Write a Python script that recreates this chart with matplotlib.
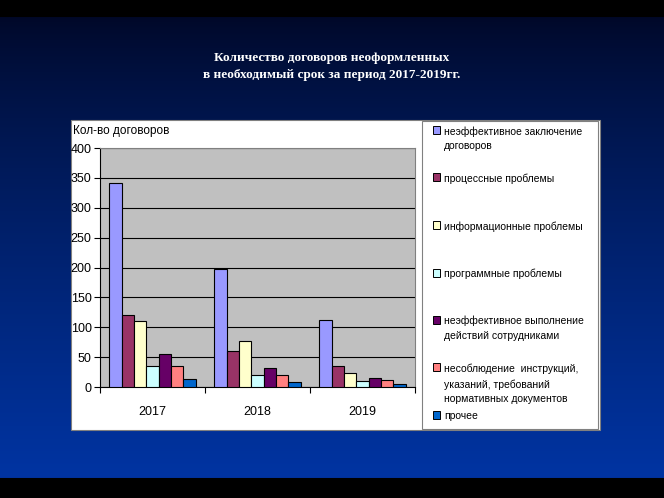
import numpy as np
import matplotlib
matplotlib.use('Agg')
import matplotlib.pyplot as plt
from matplotlib.patches import Rectangle

# data
years = ['2017', '2018', '2019']
series_names = [
    'неэффективное заключение\nдоговоров',
    'процессные проблемы',
    'информационные проблемы',
    'программные проблемы',
    'неэффективное выполнение\nдействий сотрудниками',
    'несоблюдение  инструкций,\nуказаний, требований\nнормативных документов',
    'прочее',
]
values = [
    [342, 198, 112],
    [120, 60, 35],
    [111, 77, 24],
    [35, 20, 10],
    [55, 32, 15],
    [35, 20, 11],
    [14, 8, 5],
]
colors = ['#9999FF', '#993366', '#FFFFCC', '#CCFFFF', '#660066', '#FF8080', '#0066CC']
y_ticks = [0, 50, 100, 150, 200, 250, 300, 350, 400]

W, H = 664, 498
fig = plt.figure(figsize=(W / 100, H / 100), dpi=100)

def px(x, y):
    # pixel coords (top-left origin) -> figure fraction
    return x / W, 1 - y / H

# slide background: black strips + navy-to-blue gradient
bg = fig.add_axes([0, 0, 1, 1])
bg.set_axis_off()
top = np.array([0, 8, 40])
bot = np.array([0, 52, 162])
t = np.linspace(0, 1, 460)[:, None]
grad = (top + (bot - top) * t ** 0.8) / 255
img = np.zeros((H, 1, 3))
img[18:478, 0, :] = grad
bg.imshow(img, aspect='auto', extent=[0, 1, 0, 1], interpolation='bilinear')
bg.set_xlim(0, 1)
bg.set_ylim(0, 1)

# title
fig.text(*px(332, 58), 'Количество договоров неоформленных', color='white',
         family='Liberation Serif', weight='bold', fontsize=9.5, ha='center', va='center')
fig.text(*px(332, 75), 'в необходимый срок за период 2017-2019гг.', color='white',
         family='Liberation Serif', weight='bold', fontsize=9.5, ha='center', va='center')

# white chart box and legend box
x0, y0 = px(71, 430)
x1, y1 = px(600, 120)
fig.patches.append(Rectangle((x0, y0), x1 - x0, y1 - y0, transform=fig.transFigure,
                             facecolor='white', edgecolor='#808080', lw=0.8, zorder=1))
lx0, ly0 = px(422, 429)
lx1, ly1 = px(598, 121)
fig.patches.append(Rectangle((lx0, ly0), lx1 - lx0, ly1 - ly0, transform=fig.transFigure,
                             facecolor='white', edgecolor='#808080', lw=0.8, zorder=1))

# plot area
ax = fig.add_axes([100 / W, (H - 387) / H, 315 / W, (387 - 148) / H], zorder=2)
ax.set_facecolor('#C0C0C0')
n = len(values)
bw = 1 / (n + 1.5)
x = np.arange(len(years))
for i, (vals, col) in enumerate(zip(values, colors)):
    offs = (i - (n - 1) / 2) * bw
    ax.bar(x + offs, vals, width=bw, color=col, edgecolor='black', lw=0.8, zorder=3)

ax.set_xlim(-0.5, len(years) - 0.5)
ax.set_ylim(0, 400)
ax.set_yticks(y_ticks)
ax.set_yticklabels([str(v) for v in y_ticks], family='Liberation Sans', fontsize=9)
ax.yaxis.grid(True, color='black', lw=0.8, zorder=1)
ax.set_axisbelow(True)
ax.set_xticks(np.arange(len(years) + 1) - 0.5)
ax.set_xticklabels([])
ax.set_xticks(x, minor=True)
ax.set_xticklabels(years, minor=True, family='Liberation Sans', fontsize=9)
ax.tick_params(axis='x', which='minor', length=0, pad=14)
ax.tick_params(axis='x', which='major', length=4, direction='out', color='black')
ax.tick_params(axis='y', length=4, direction='out', pad=2)
for s in ['top', 'right']:
    ax.spines[s].set_color('#808080')
for s in ['left', 'bottom']:
    ax.spines[s].set_color('black')

fig.text(*px(73, 131), 'Кол-во договоров', family='Liberation Sans', fontsize=8.5,
         ha='left', va='center', zorder=3)

# legend drawn by hand (entries evenly spaced like the original)
for i, (name, col) in enumerate(zip(series_names, colors)):
    yy = 130 + 47.5 * i
    if i == n - 1:
        yy = 415
    sx, sy = px(433, yy + 4)
    fig.patches.append(Rectangle((sx, sy), 7 / W, 8 / H, transform=fig.transFigure,
                                 facecolor=col, edgecolor='black', lw=0.7, zorder=3))
    fig.text(*px(444, yy - 4), name, family='Liberation Sans', fontsize=7.5,
             ha='left', va='top', linespacing=1.6, zorder=3)

fig.savefig('out.png', dpi=100)
